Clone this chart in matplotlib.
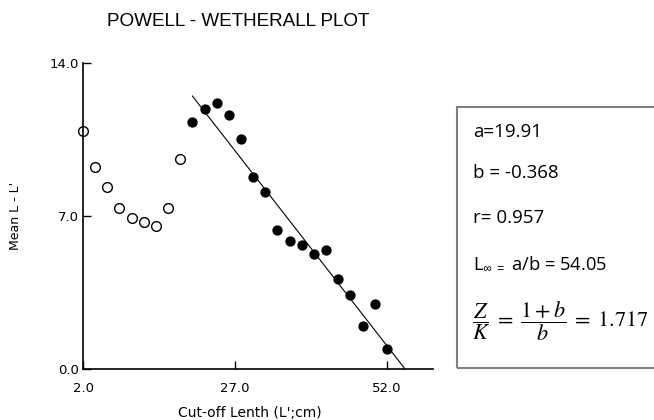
import matplotlib
matplotlib.use("Agg")
import matplotlib.pyplot as plt
from matplotlib.patches import Rectangle

# points left out of the regression (open circles)
open_x = [2, 4, 6, 8, 10, 12, 14, 16, 18]
open_y = [10.89, 9.25, 8.33, 7.35, 6.89, 6.74, 6.56, 7.35, 9.60]

# points used for the regression (filled)
fit_pts_x = [20, 22, 24, 26, 28, 30, 32, 34, 36, 38, 40, 42, 44, 46, 48, 50, 52]
fit_pts_y = [11.30, 11.89, 12.17, 11.64, 10.52, 8.77, 8.11, 6.37, 5.86, 5.69,
             5.27, 5.46, 4.10, 3.37, 1.97, 2.97, 0.93]

# regression line ends as drawn
line_x = [20.0, 55.0]
line_y = [12.49, 0.0]

x_ticks = [2.0, 27.0, 52.0]
y_ticks = [0.0, 7.0, 14.0]

stats_lines = ["a=19.91", "b = -0.368", "r= 0.957"]

plt.rcParams["mathtext.fontset"] = "custom"
plt.rcParams["mathtext.rm"] = "Open Sans"
plt.rcParams["mathtext.it"] = "Open Sans"

fig = plt.figure(figsize=(6.54, 4.2), dpi=100)
ax = fig.add_axes([83/654, 51/420, 350/654, 306/420])

ax.plot(line_x, line_y, color="black", lw=0.8)
ax.plot(open_x, open_y, "o", ms=7.0, mfc="white", mec="black", mew=1.0, clip_on=False)
ax.plot(fit_pts_x, fit_pts_y, "o", ms=6.4, color="black", clip_on=False)

ax.set_xlim(2, 59.6)
ax.set_ylim(0, 14)
ax.set_xticks(x_ticks)
ax.set_yticks(y_ticks)
ax.set_xticklabels(["%.1f" % v for v in x_ticks])
ax.set_yticklabels(["%.1f" % v for v in y_ticks])
ax.tick_params(direction="in", length=6, width=1, labelsize=9.5, pad=3)
ax.tick_params(axis="x", pad=9)
for s in ["top", "right"]:
    ax.spines[s].set_visible(False)
for s in ["left", "bottom"]:
    ax.spines[s].set_linewidth(1.2)

ax.set_xlabel("Cut-off Lenth (L';cm)", fontsize=10)
ax.xaxis.set_label_coords(167/350, -37/306)
ax.set_ylabel("Mean L - L'", fontsize=9)
ax.yaxis.set_label_coords(-61/350, 0.5)

fig.text(107/654, 1 - 22/420, "POWELL - WETHERALL PLOT", fontsize=13.6,
         family="Liberation Sans", va="center", ha="left")

# stats box
fig.patches.append(Rectangle((457/654, 52/420), 0.35, 261/420, transform=fig.transFigure,
                             fill=False, edgecolor="#808080", lw=1.5))
ys = [132, 173, 218]
for t, yy in zip(stats_lines, ys):
    fig.text(473/654, 1 - yy/420, t, fontsize=13.5, family="Open Sans", va="center")
fig.text(473/654, 1 - 263/420, r"L$_{\infty\,=}$ a/b = 54.05", fontsize=13.2,
         family="Open Sans", va="center")
fig.text(472/654, 1 - 321/420, r"$\dfrac{Z}{K}\;=\;\dfrac{1+b}{b}\;=\;1.717$", fontsize=16,
         va="center", math_fontfamily="stix")

fig.savefig("out.png", dpi=100)
